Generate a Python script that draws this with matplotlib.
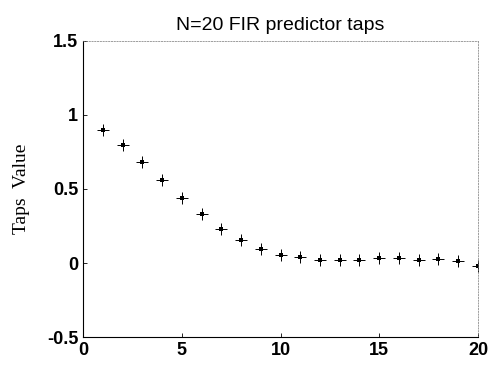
import numpy as np
import matplotlib
matplotlib.use("Agg")
from matplotlib import pyplot as plt

# tap index and estimated tap values
taps = np.arange(1, 21)
tap_values = [0.90, 0.80, 0.685, 0.56, 0.44, 0.33, 0.228, 0.155, 0.094, 0.054,
              0.043, 0.02, 0.022, 0.02, 0.031, 0.031, 0.02, 0.025, 0.011, -0.018]
x_ticks = [0, 5, 10, 15, 20]
y_ticks = [-0.5, 0, 0.5, 1, 1.5]

fig = plt.figure(figsize=(4.9, 3.65), dpi=100)
ax = fig.add_axes([0.1694, 0.0767, 0.8061, 0.811])

ax.plot(taps, tap_values, linestyle='none', marker='+', markersize=8,
        markeredgewidth=0.7, color='black')
ax.plot(taps, tap_values, linestyle='none', marker='s', markersize=3,
        markeredgewidth=0, color='black')

ax.set_xlim(0, 20)
ax.set_ylim(-0.5, 1.5)
ax.set_xticks(x_ticks)
ax.set_yticks(y_ticks)
ax.set_yticklabels(['-0.5', '0', '0.5', '1', '1.5'])
ax.tick_params(direction='in', length=3, width=0.6, labelsize=13)
for lbl in ax.get_xticklabels() + ax.get_yticklabels():
    lbl.set_family('Liberation Sans')
    lbl.set_weight('bold')

for side in ['top', 'right']:
    ax.spines[side].set_linestyle((0, (2, 2)))
    ax.spines[side].set_linewidth(0.5)
    ax.spines[side].set_color('#777777')
for side in ['left', 'bottom']:
    ax.spines[side].set_linewidth(0.8)

ax.set_title('N=20 FIR predictor taps', fontsize=14, family='Liberation Sans', pad=8)
ax.set_ylabel('Taps  Value', fontsize=14, family='Liberation Serif', labelpad=12)

fig.savefig('out.png', dpi=100)
